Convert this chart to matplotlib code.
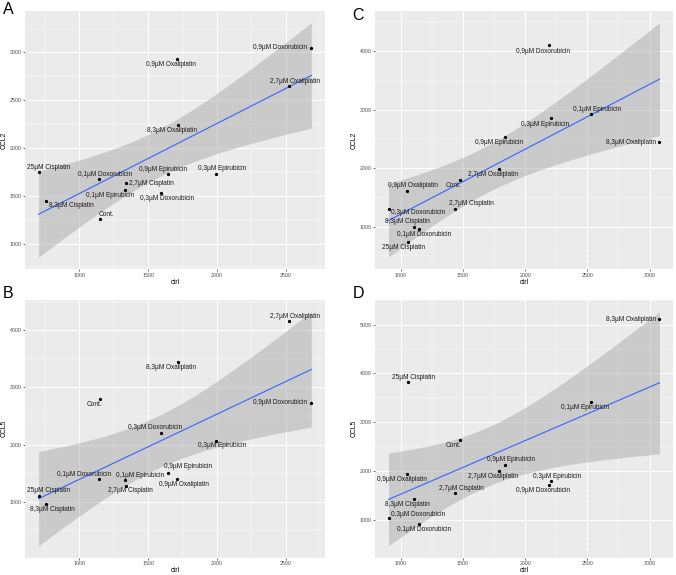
import numpy as np
import matplotlib
matplotlib.use("Agg")
import matplotlib.pyplot as plt
from matplotlib.ticker import MultipleLocator

plt.rcParams['font.family'] = ['Liberation Sans', 'DejaVu Sans']

# treatments (same order in every array)
treatments = ["Cont.", "0,1µM Doxorubicin", "0,3µM Doxorubicin", "0,9µM Doxorubicin",
              "0,1µM Epirubicin", "0,3µM Epirubicin", "0,9µM Epirubicin",
              "0,9µM Oxaliplatin", "2,7µM Oxaliplatin", "8,3µM Oxaliplatin",
              "2,7µM Cisplatin", "8,3µM Cisplatin", "25µM Cisplatin"]

# left column (A, B)
ctrl_ab = [1151, 1146, 1593, 2686, 1335, 1991, 1646, 1712, 2521, 1715, 1340, 757, 704]
ccl2_a = [1252, 1671, 1531, 3048, 1556, 1733, 1723, 2930, 2647, 2245, 1629, 1448, 1744]
ccl5_b = [2801, 1393, 2210, 2731, 1376, 2070, 1498, 1393, 4157, 3437, 1280, 955, 1100]

# right column (C, D)
ctrl_cd = [1473, 1144, 901, 2192, 2526, 2205, 1834, 1050, 1792, 3080, 1438, 1104, 1056]
ccl2_c = [1801, 971, 1303, 4114, 2932, 2854, 2541, 1614, 1983, 2456, 1308, 1005, 745]
ccl5_d = [2639, 925, 1033, 1714, 3408, 1788, 2129, 1945, 2012, 5122, 1551, 1429, 3816]

# label offsets in pixels (right, down), same order as treatments
off_a = [(6.3, -4.7), (6, -5.3), (5.7, 5.7), (-31, 0), (-15, 5.3), (6, -4.7), (-5.7, -5),
         (-6, 5.7), (6, -4.7), (-6, 5.7), (25, 0), (25, 4.7), (10, -5)]
off_b = [(-5.7, 5.7), (-15, -5), (-6, -5.3), (-31, 0), (15, -4.3), (6, 5.3), (19.7, -6.7),
         (6.3, 5.3), (6, -5), (-6.3, 5.3), (4.7, 5), (6, 5.7), (10, -5.3)]
off_c = [(-6, 5.7), (5.7, 5.3), (30, 3.3), (-6, 6.3), (6, -4.7), (-6, 5.7), (-6, 6),
         (6, -5.3), (-6.3, 5.3), (-28, 1), (16.3, -5.3), (-6.3, -5), (-4, 5.3)]
off_d = [(-6, 5.3), (5.7, 5.7), (30, -4.3), (-5.7, 5.3), (-6, 5), (6, -4.7), (6.3, -5),
         (-5, 6), (-6.3, 5.7), (-28, 0.7), (5.7, -4.7), (-6.3, 5.7), (5.7, -4.7)]

T_975 = 2.200985  # t quantile, df = 11

W, H = 676, 575
fig = plt.figure(figsize=(W / 100, H / 100), dpi=100)


def panel(box, x, y, offsets, letter, letter_pos, ylab, xmaj, ymaj, segs=()):
    l, t, r, b = box
    ax = fig.add_axes([l / W, 1 - b / H, (r - l) / W, (b - t) / H])
    ax.set_facecolor("#EBEBEB")
    x = np.array(x, float)
    y = np.array(y, float)

    # linear fit + 95% confidence band
    k, c = np.polyfit(x, y, 1)
    n = len(x)
    resid = y - (k * x + c)
    s = np.sqrt(np.sum(resid ** 2) / (n - 2))
    xs = np.linspace(x.min(), x.max(), 80)
    se = s * np.sqrt(1 / n + (xs - x.mean()) ** 2 / np.sum((x - x.mean()) ** 2))
    fit = k * xs + c
    ax.fill_between(xs, fit - T_975 * se, fit + T_975 * se, color="#999999", alpha=0.4,
                    lw=0, zorder=2)
    ax.plot(xs, fit, color="#3366FF", lw=0.8, zorder=3)
    ax.scatter(x, y, s=5.5, color="black", zorder=4, linewidths=0)

    for i, name in enumerate(treatments):
        dx, dy = offsets[i]
        arrow = None
        if name in segs:
            arrow = dict(arrowstyle="-", lw=0.4, color="black", shrinkA=0, shrinkB=2)
        ax.annotate(name, (x[i], y[i]), xytext=(dx, -dy), textcoords="offset pixels",
                    ha="center", va="center", fontsize=4.7, color="#1a1a1a", zorder=5,
                    arrowprops=arrow)

    ax.margins(x=0.05, y=0.05)
    ax.xaxis.set_major_locator(MultipleLocator(xmaj))
    ax.xaxis.set_minor_locator(MultipleLocator(xmaj / 2))
    ax.yaxis.set_major_locator(MultipleLocator(ymaj))
    ax.yaxis.set_minor_locator(MultipleLocator(ymaj / 2))
    ax.grid(which="major", color="white", lw=0.7, zorder=0)
    ax.grid(which="minor", color="white", lw=0.35, zorder=0)
    ax.set_axisbelow(True)
    for sp in ax.spines.values():
        sp.set_visible(False)
    ax.tick_params(which="major", length=1.6, width=0.5, color="#333333", pad=1.0,
                   labelsize=3.8, labelcolor="#4D4D4D")
    ax.tick_params(which="minor", length=0)
    ax.set_xlabel("ctrl", fontsize=4.9, labelpad=0.8)
    ax.set_ylabel(ylab, fontsize=4.9, labelpad=1.5)
    fig.text(letter_pos[0] / W, 1 - letter_pos[1] / H, letter, fontsize=11.5,
             ha="left", va="center")
    return ax


panel((25, 11, 325, 269), ctrl_ab, ccl2_a, off_a, "A", (3, 9.5), "CCL2", 500, 500)
panel((25, 300, 325, 557.5), ctrl_ab, ccl5_b, off_b, "B", (3, 293), "CCL5", 500, 1000,
      segs=("0,9µM Epirubicin",))
panel((375, 11, 673, 269), ctrl_cd, ccl2_c, off_c, "C", (352.5, 16), "CCL2", 500, 1000)
panel((375, 300, 673, 557.5), ctrl_cd, ccl5_d, off_d, "D", (352.5, 293), "CCL5", 500, 1000)

fig.savefig("out.png", dpi=100)
